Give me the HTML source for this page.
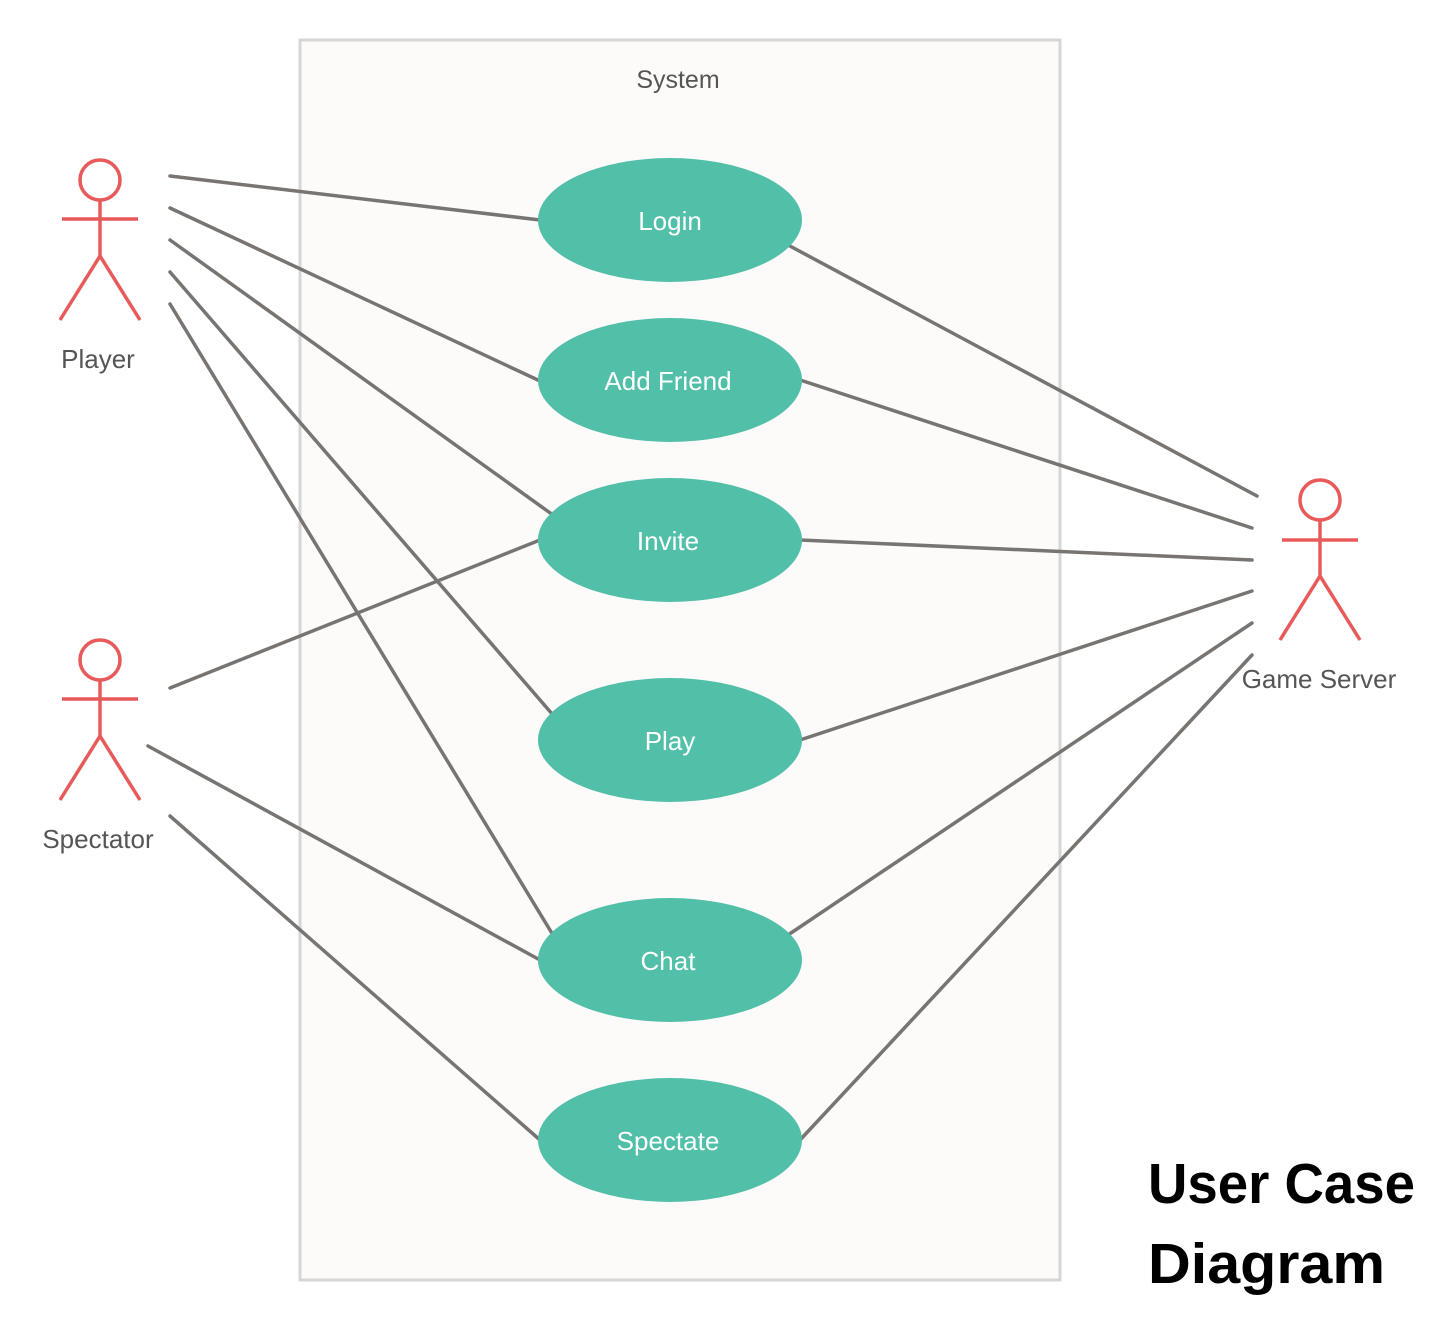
<!DOCTYPE html>
<html><head><meta charset="utf-8"><style>
html,body{margin:0;padding:0;background:#fff;}
svg{display:block;}
text{font-family:"Liberation Sans","Noto Sans CJK KR",sans-serif;}
</style></head><body>
<svg width="1437" height="1321" viewBox="0 0 1437 1321" xmlns="http://www.w3.org/2000/svg">
<rect x="300" y="40" width="760" height="1240" fill="#fcfbf9" stroke="#d6d6d6" stroke-width="3"/>
<text x="678" y="88" font-size="25" fill="#555" text-anchor="middle">System</text>
<g stroke="#787471" stroke-width="3.5" stroke-linecap="round">
<line x1="170" y1="176" x2="540" y2="220"/>
<line x1="170" y1="208" x2="540" y2="381"/>
<line x1="170" y1="240" x2="553" y2="515"/>
<line x1="170" y1="272" x2="553" y2="715"/>
<line x1="170" y1="304" x2="553" y2="935"/>
<line x1="170" y1="688" x2="540" y2="540"/>
<line x1="148" y1="746" x2="540" y2="960"/>
<line x1="170" y1="816" x2="540" y2="1140"/>
<line x1="788" y1="245" x2="1257" y2="496"/>
<line x1="800" y1="380" x2="1252" y2="528"/>
<line x1="800" y1="540" x2="1252" y2="560"/>
<line x1="800" y1="740" x2="1252" y2="591"/>
<line x1="788" y1="935" x2="1252" y2="623"/>
<line x1="800" y1="1140" x2="1252" y2="655"/>
</g>
<g fill="#52bfa9">
<ellipse cx="670" cy="220" rx="132" ry="62"/>
<ellipse cx="670" cy="380" rx="132" ry="62"/>
<ellipse cx="670" cy="540" rx="132" ry="62"/>
<ellipse cx="670" cy="740" rx="132" ry="62"/>
<ellipse cx="670" cy="960" rx="132" ry="62"/>
<ellipse cx="670" cy="1140" rx="132" ry="62"/>
</g>
<g fill="#fff" font-size="26" text-anchor="middle">
<text x="670" y="230">Login</text>
<text x="668" y="390">Add Friend</text>
<text x="668" y="550">Invite</text>
<text x="670" y="750">Play</text>
<text x="668" y="970">Chat</text>
<text x="668" y="1150">Spectate</text>
</g>
<g stroke="#e85a5a" stroke-width="3.5" fill="none">
<circle cx="100" cy="180" r="20"/>
<line x1="100" y1="200" x2="100" y2="256"/>
<line x1="62" y1="219" x2="138" y2="219"/>
<polyline points="60,320 100,256 140,320"/>
<circle cx="100" cy="660" r="20"/>
<line x1="100" y1="680" x2="100" y2="736"/>
<line x1="62" y1="699" x2="138" y2="699"/>
<polyline points="60,800 100,736 140,800"/>
<circle cx="1320" cy="500" r="20"/>
<line x1="1320" y1="520" x2="1320" y2="576"/>
<line x1="1282" y1="540" x2="1358" y2="540"/>
<polyline points="1280,640 1320,576 1360,640"/>
</g>
<g fill="#555" font-size="26" text-anchor="middle">
<text x="98" y="368">Player</text>
<text x="98" y="848">Spectator</text>
<text x="1319" y="688">Game Server</text>
</g>
<g fill="#000" font-size="57" font-weight="bold">
<text x="1148" y="1203" textLength="267" lengthAdjust="spacingAndGlyphs">User Case</text>
<text x="1148" y="1283" textLength="237" lengthAdjust="spacingAndGlyphs">Diagram</text>
</g>
</svg>
</body></html>
